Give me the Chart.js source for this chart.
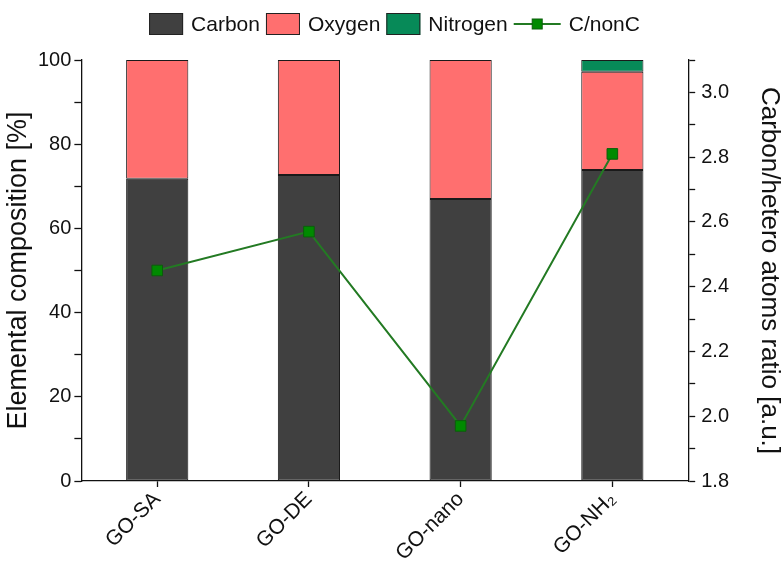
<!DOCTYPE html>
<html>
<head>
<meta charset="utf-8">
<script src="https://cdn.jsdelivr.net/npm/chart.js@4/dist/chart.umd.min.js"></script>
<style>
  html, body { margin: 0; padding: 0; background: #fff; }
  #wrap { width: 783px; height: 561px; position: relative; }
</style>
</head>
<body>
<div id="wrap"><canvas id="c" width="783" height="561"></canvas></div>
<script>
// Samples on the category axis
const categories = ['GO-SA', 'GO-DE', 'GO-nano', 'GO-NH\u2082'];

// Elemental composition [%], stacked
const carbon   = [71.8, 72.7, 67.0, 73.9];
const oxygen   = [28.2, 27.3, 33.0, 23.3];
const nitrogen = [null, null, null, 2.8];

// Carbon / hetero atoms ratio (right axis)
const ratio = [2.45, 2.57, 1.97, 2.81];

// Labelled ticks on both value axes
const leftTickLabels  = [0, 20, 40, 60, 80, 100];
const rightTickLabels = [1.8, 2.0, 2.2, 2.4, 2.6, 2.8, 3.0];

const FONT = '"Liberation Sans", Arial, Helvetica, sans-serif';
const INK = '#111';

// Legend drawn across the top: filled boxes for the bars, line + square for the ratio
const topLegend = {
  id: 'topLegend',
  afterDraw(chart) {
    const ctx = chart.ctx;
    const ds = chart.data.datasets;
    ctx.save();
    ctx.font = '21px ' + FONT;
    ctx.textBaseline = 'middle';
    const boxW = 34, boxH = 22, gap = 8, itemGap = 6, lineW = 47;
    const items = ds.map(d => ({
      d,
      w: (d.type === 'line' ? lineW : boxW) + gap + ctx.measureText(d.label).width
    }));
    const total = items.reduce((s, it) => s + it.w, 0) + itemGap * (items.length - 1);
    let x = chart.width / 2 + 3 - total / 2;
    const cy = 24;
    items.forEach(({d}) => {
      if (d.type === 'line') {
        ctx.strokeStyle = d.borderColor;
        ctx.lineWidth = 2;
        ctx.beginPath();
        ctx.moveTo(x, cy);
        ctx.lineTo(x + lineW, cy);
        ctx.stroke();
        ctx.fillStyle = d.pointBackgroundColor;
        ctx.strokeStyle = d.pointBorderColor;
        ctx.lineWidth = 1;
        ctx.fillRect(x + lineW / 2 - 5, cy - 5, 10, 10);
        ctx.strokeRect(x + lineW / 2 - 5, cy - 5, 10, 10);
        x += lineW + gap;
      } else {
        ctx.fillStyle = d.backgroundColor;
        ctx.fillRect(x, cy - boxH / 2, boxW, boxH);
        ctx.strokeStyle = '#222';
        ctx.lineWidth = 1;
        ctx.strokeRect(x + 0.5, cy - boxH / 2 + 0.5, boxW - 1, boxH - 1);
        x += boxW + gap;
      }
      ctx.fillStyle = INK;
      ctx.fillText(d.label, x, cy + 1);
      x += ctx.measureText(d.label).width + itemGap;
    });
    ctx.restore();
  }
};

const barStyle = { borderColor: '#1a1a1a', borderWidth: 1, borderSkipped: false,
                   barPercentage: 0.41, categoryPercentage: 1.0, yAxisID: 'y' };

new Chart(document.getElementById('c'), {
  data: {
    labels: categories,
    datasets: [
      Object.assign({ type: 'bar', label: 'Carbon',   data: carbon,   backgroundColor: '#404040', order: 1 }, barStyle),
      Object.assign({ type: 'bar', label: 'Oxygen',   data: oxygen,   backgroundColor: '#ff6f6f', order: 2 }, barStyle),
      Object.assign({ type: 'bar', label: 'Nitrogen', data: nitrogen, backgroundColor: '#078a58', order: 3 }, barStyle),
      {
        type: 'line', label: 'C/nonC', data: ratio, yAxisID: 'y1', order: 0,
        borderColor: '#237a23', borderWidth: 2,
        pointStyle: 'rect', pointRadius: 7.5,
        pointBackgroundColor: '#008a00', pointBorderColor: '#0b5e0b', pointBorderWidth: 1,
        tension: 0, fill: false
      }
    ]
  },
  options: {
    responsive: false,
    animation: false,
    layout: { padding: { top: 60, left: 3, right: 0, bottom: 0 } },
    plugins: { legend: { display: false }, tooltip: { enabled: false } },
    scales: {
      x: {
        stacked: true,
        offset: true,
        grid: { display: true, offset: false, drawOnChartArea: false, drawTicks: true,
                tickLength: 6, tickColor: INK, tickWidth: 1.3 },
        border: { display: true, color: INK, width: 1.3 },
        ticks: { color: INK, font: { family: FONT, size: 21 }, maxRotation: 45, minRotation: 45, padding: 0 },
        afterFit: s => { s.height = 80; }
      },
      y: {
        stacked: true,
        position: 'left',
        min: 0, max: 100,
        grid: { display: true, drawOnChartArea: false, drawTicks: true, tickLength: 7,
                tickColor: INK, tickWidth: 1.3 },
        border: { display: true, color: INK, width: 1.3 },
        ticks: {
          stepSize: 10, color: INK, font: { family: FONT, size: 20 }, padding: 3,
          callback: v => leftTickLabels.includes(v) ? String(v) : ''
        },
        title: { display: true, text: 'Elemental composition [%]', color: INK,
                 font: { family: FONT, size: 27, lineHeight: 1 }, padding: { top: 2, bottom: 3 } }
      },
      y1: {
        position: 'right',
        min: 1.8, max: 3.1,
        grid: { display: true, drawOnChartArea: false, drawTicks: true, tickLength: 7,
                tickColor: INK, tickWidth: 1.3 },
        border: { display: true, color: INK, width: 1.3 },
        ticks: {
          stepSize: 0.1, color: INK, font: { family: FONT, size: 20 }, padding: 6,
          callback: v => {
            const r = Math.round(v * 10) / 10;
            return rightTickLabels.some(t => Math.abs(t - r) < 1e-6) ? r.toFixed(1) : '';
          }
        },
        title: { display: true, text: 'Carbon/hetero atoms ratio [a.u.]', color: INK,
                 font: { family: FONT, size: 26, lineHeight: 1 }, padding: { top: 1, bottom: 21 } }
      }
    }
  },
  plugins: [topLegend]
});
</script>
</body>
</html>
